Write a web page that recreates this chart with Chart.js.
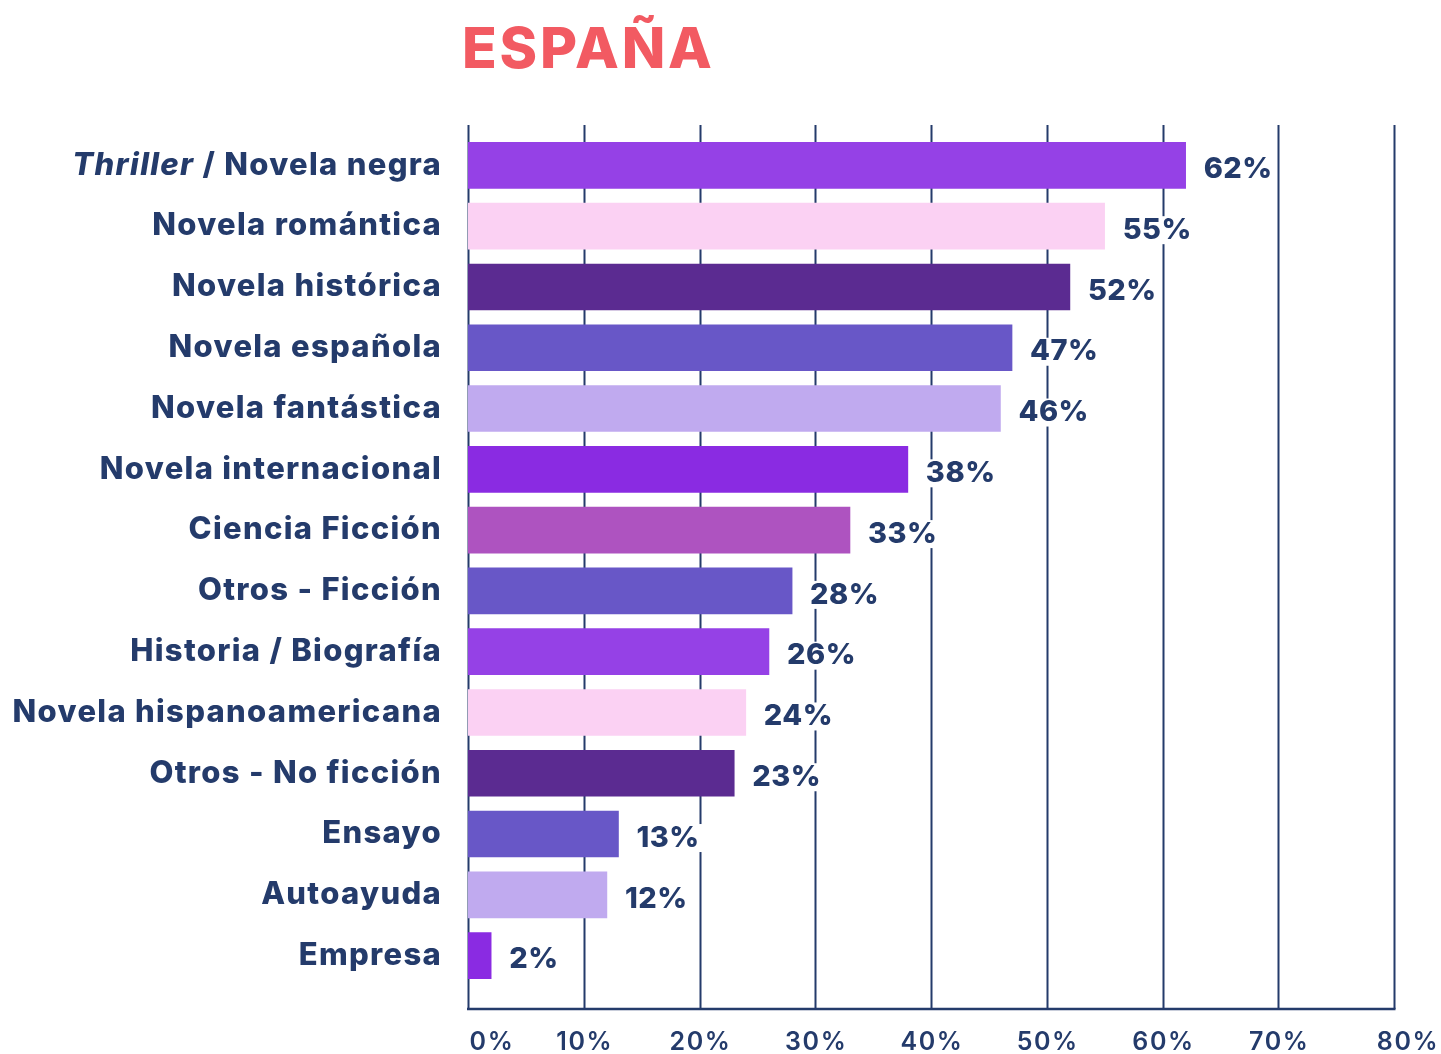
<!DOCTYPE html>
<html lang="es">
<head>
<meta charset="utf-8">
<title>España</title>
<script src="https://cdn.jsdelivr.net/npm/chart.js@4.4.1/dist/chart.umd.min.js"></script>
<style>
  html, body { margin: 0; padding: 0; background: #ffffff; }
  #wrap { width: 1441px; height: 1054px; position: relative; }
</style>
</head>
<body>
<div id="wrap"><canvas id="generosChart" width="1441" height="1054"></canvas></div>
<script>
const categories = [
  'Thriller / Novela negra',
  'Novela romántica',
  'Novela histórica',
  'Novela española',
  'Novela fantástica',
  'Novela internacional',
  'Ciencia Ficción',
  'Otros - Ficción',
  'Historia / Biografía',
  'Novela hispanoamericana',
  'Otros - No ficción',
  'Ensayo',
  'Autoayuda',
  'Empresa'
];
const values = [62, 55, 52, 47, 46, 38, 33, 28, 26, 24, 23, 13, 12, 2];
const barColors = [
  '#9541e6', '#fbd1f3', '#5b2b91', '#6857c7', '#c0aaef', '#8a2be2', '#ae53c0',
  '#6857c7', '#9541e6', '#fbd1f3', '#5b2b91', '#6857c7', '#c0aaef', '#8a2be2'
];
const xTicks = [0, 10, 20, 30, 40, 50, 60, 70, 80];
const xTickLabels = ['0%', '10%', '20%', '30%', '40%', '50%', '60%', '70%', '80%'];

const NAVY = '#243b6b';
const FONT = 'Inter, "Open Sans", sans-serif';

// grid lines run a bit past the plot area, bars are drawn on top
const gridPlugin = {
  id: 'gridLines',
  beforeDatasetsDraw(chart) {
    const { ctx, chartArea, scales } = chart;
    const top = chartArea.top - 10;
    const bottom = chartArea.bottom + 23;
    ctx.save();
    ctx.strokeStyle = NAVY;
    ctx.lineWidth = 2;
    xTicks.forEach(v => {
      const x = Math.round(scales.x.getPixelForValue(v)) + 0.5;
      ctx.beginPath();
      ctx.moveTo(x, top);
      ctx.lineTo(x, bottom);
      ctx.stroke();
    });
    ctx.lineWidth = 2.5;
    ctx.beginPath();
    ctx.moveTo(scales.x.getPixelForValue(0) - 1, bottom);
    ctx.lineTo(scales.x.getPixelForValue(80) + 1.5, bottom);
    ctx.stroke();

    // tick labels under the axis line
    ctx.fillStyle = NAVY;
    ctx.font = '600 25px ' + FONT;
    ctx.textAlign = 'center';
    ctx.textBaseline = 'middle';
    ctx.letterSpacing = '1.6px';
    xTicks.forEach((v, i) => {
      let x = scales.x.getPixelForValue(v);
      if (i === 0) x += 23;
      if (i === xTicks.length - 1) x += 13;
      ctx.fillText(xTickLabels[i], x + 1, 1042);
    });
    ctx.restore();
  }
};

// category names (first one partly italic), value labels and the title
const labelPlugin = {
  id: 'labels',
  afterDatasetsDraw(chart) {
    const { ctx, scales } = chart;
    const meta = chart.getDatasetMeta(0);
    ctx.save();
    ctx.fillStyle = NAVY;
    ctx.textBaseline = 'middle';
    ctx.letterSpacing = '1.3px';

    categories.forEach((name, i) => {
      const y = scales.y.getPixelForValue(i);
      const right = 442;
      if (i === 0) {
        const parts = [['italic 800 31px ' + FONT, 'Thriller'], ['800 31px ' + FONT, ' / Novela negra']];
        let w = 0;
        parts.forEach(p => { ctx.font = p[0]; w += ctx.measureText(p[1]).width; });
        let x = right - w;
        ctx.textAlign = 'left';
        parts.forEach(p => { ctx.font = p[0]; ctx.fillText(p[1], x, y); x += ctx.measureText(p[1]).width; });
      } else {
        ctx.font = '800 31px ' + FONT;
        ctx.textAlign = 'right';
        ctx.fillText(name, right, y);
      }
    });

    // value labels sit on a white box that hides the grid behind them
    ctx.font = '800 29px ' + FONT;
    ctx.letterSpacing = '0.5px';
    ctx.textAlign = 'left';
    meta.data.forEach((bar, i) => {
      const txt = values[i] + '%';
      const x = bar.x + 18;
      const y = bar.y + 4;
      const w = ctx.measureText(txt).width;
      ctx.fillStyle = '#ffffff';
      ctx.fillRect(x - 3, y - 14, w + 6, 28);
      ctx.fillStyle = NAVY;
      ctx.fillText(txt, x, y);
    });

    ctx.fillStyle = '#f25a62';
    ctx.font = '800 57px ' + FONT;
    ctx.letterSpacing = '2.8px';
    ctx.textBaseline = 'alphabetic';
    ctx.fillText('ESPAÑA', 462, 68);
    ctx.restore();
  }
};

new Chart(document.getElementById('generosChart'), {
  type: 'bar',
  data: {
    labels: categories,
    datasets: [{
      data: values,
      backgroundColor: barColors,
      borderWidth: 0,
      barThickness: 46
    }]
  },
  options: {
    indexAxis: 'y',
    responsive: false,
    animation: false,
    layout: { padding: { left: 468, right: 47, top: 135, bottom: 68 } },
    plugins: {
      legend: { display: false },
      title: { display: false },
      tooltip: { enabled: false }
    },
    scales: {
      x: {
        min: 0,
        max: 80,
        display: false
      },
      y: {
        display: false
      }
    }
  },
  plugins: [gridPlugin, labelPlugin]
});
</script>
</body>
</html>
